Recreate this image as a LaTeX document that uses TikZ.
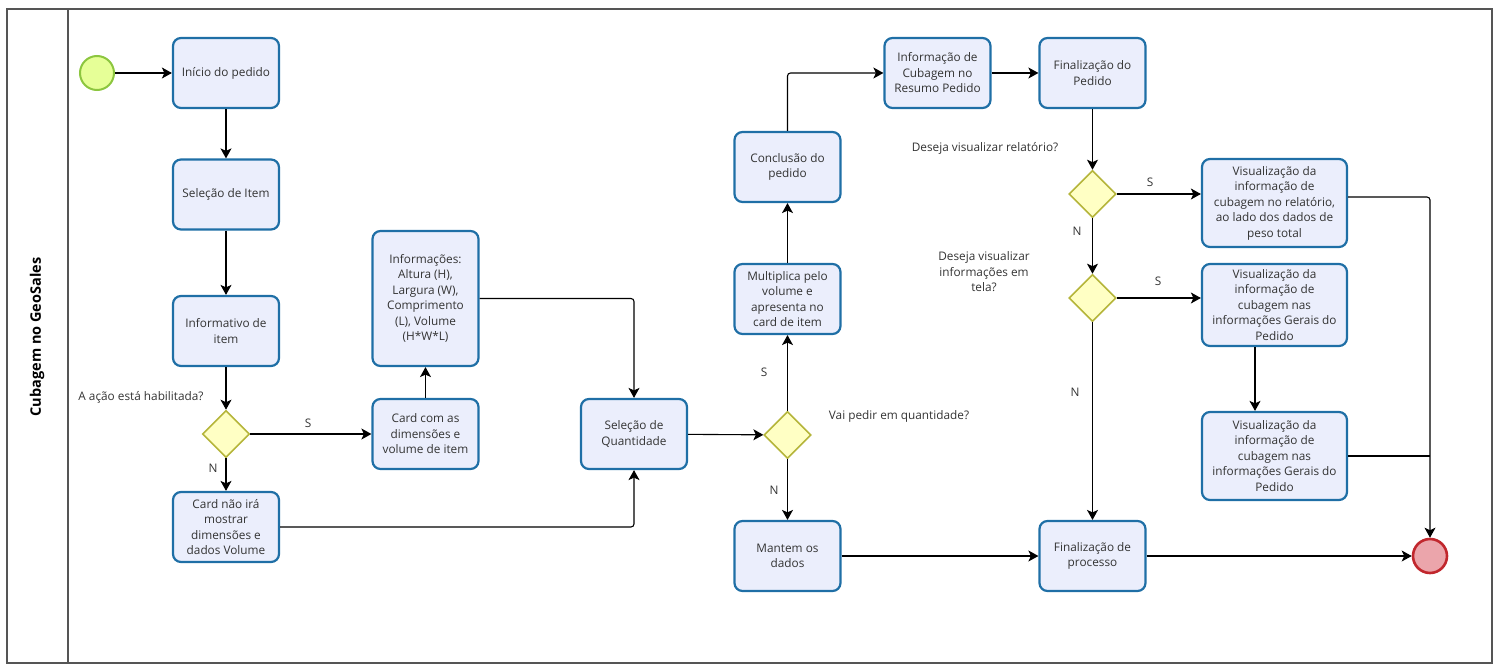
\documentclass[tikz,border=0pt]{standalone}
\usepackage{fontspec}
\setmainfont{Open Sans}
\usetikzlibrary{arrows.meta,shapes.geometric}
\definecolor{taskfill}{HTML}{EBEEFC}
\definecolor{taskline}{HTML}{1F6FA6}
\definecolor{gwfill}{HTML}{FFFFC4}
\definecolor{gwline}{HTML}{B5B53A}
\definecolor{txt}{HTML}{333333}
\definecolor{startfill}{HTML}{E6FF97}
\definecolor{startline}{HTML}{8CC63F}
\definecolor{endfill}{HTML}{EBA5AB}
\definecolor{endline}{HTML}{C1272D}
\definecolor{frame}{HTML}{555555}
\tikzset{
  txtfont/.style={font=\fontsize{11.8}{15.5}\selectfont, text=txt},
  task/.style={draw=taskline, line width=2.2pt, fill=taskfill, rounded corners=8pt,
    minimum width=106pt, minimum height=70pt, align=center, inner sep=1pt, txtfont},
  gw/.style={diamond, draw=gwline, line width=1.6pt, fill=gwfill, minimum width=47pt, minimum height=47pt, inner sep=0pt},
  startev/.style={circle, draw=startline, line width=2pt, fill=startfill, minimum size=34pt, inner sep=0pt},
  endev/.style={circle, draw=endline, line width=2.6pt, fill=endfill, minimum size=34pt, inner sep=0pt},
  flow/.style={draw=black, line width=1.1pt, rounded corners=3pt, -{Stealth[length=10pt,width=11pt,inset=2.5pt]}},
  plain/.style={draw=black, line width=1.1pt, rounded corners=3pt},
  lbl/.style={txtfont, inner sep=0pt, align=center}
}
\begin{document}
\begin{tikzpicture}[x=1pt,y=-1pt]
\useasboundingbox (0,0) rectangle (1500,671);
\draw[frame, line width=1.3pt] (7,9) rectangle (1492,663);
\draw[frame, line width=1.3pt] (68,9) -- (68,663);
\node[rotate=90, font=\fontsize{14.5}{16}\selectfont\bfseries] (lane) at (37,337) {Cubagem no GeoSales};

\node[startev] (start) at (97,73) {};
\node[task] (t1) at (226,73) {Início do pedido};
\node[task] (t2) at (226,194.5) {Seleção de Item};
\node[task] (t3) at (226,331) {Informativo de\\item};
\node[gw] (g1) at (226,434) {};
\node[task] (cardnao) at (226,527) {Card não irá\\mostrar\\dimensões e\\dados Volume};
\node[task] (cardcom) at (425.5,434) {Card com as\\dimensões e\\volume de item};
\node[task, minimum height=135pt] (info) at (425.5,298.5) {Informações:\\Altura (H),\\Largura (W),\\Comprimento\\(L), Volume\\(H*W*L)};
\node[task] (selq) at (634,434) {Seleção de\\Quantidade};
\node[gw] (g2) at (787.5,435) {};
\node[task] (mant) at (787.5,556) {Mantem os\\dados};
\node[task] (mult) at (787.5,299) {Multiplica pelo\\volume e\\apresenta no\\card de item};
\node[task] (concl) at (787.5,167) {Conclusão do\\pedido};
\node[task] (infores) at (937.5,73) {Informação de\\Cubagem no\\Resumo Pedido};
\node[task] (finped) at (1092.5,73) {Finalização do\\Pedido};
\node[gw] (g3) at (1092.5,194) {};
\node[gw] (g4) at (1092.5,298) {};
\node[task, minimum width=145pt, minimum height=88pt] (vis1) at (1274.5,203) {Visualização da\\informação de\\cubagem no relatório,\\ao lado dos dados de\\peso total};
\node[task, minimum width=145pt, minimum height=82pt] (vis2) at (1274.5,305) {Visualização da\\informação de\\cubagem nas\\informações Gerais do\\Pedido};
\node[task, minimum width=145pt, minimum height=88pt] (vis3) at (1274.5,456) {Visualização da\\informação de\\cubagem nas\\informações Gerais do\\Pedido};
\node[task] (finproc) at (1092.5,556) {Finalização de\\processo};
\node[endev] (end) at (1430,556) {};

\node[lbl] (q1) at (141,397) {A ação está habilitada?};
\node[lbl] (q2) at (899,416) {Vai pedir em quantidade?};
\node[lbl] (q3) at (985,148) {Deseja visualizar relatório?};
\node[lbl] (q4) at (984,272) {Deseja visualizar\\informações em\\tela?};

\draw[flow] (start) -- (t1);
\draw[flow] (t1) -- (t2);
\draw[flow] (t2) -- (t3);
\draw[flow] (t3) -- (g1);
\draw[flow] (g1) -- (cardcom);
\node[lbl] (s1) at (308,423) {S};
\draw[flow] (g1) -- (cardnao);
\node[lbl] (n1) at (213,468) {N};
\draw[flow] (cardcom) -- (info);
\draw[flow] (info.east) -| (selq.north);
\draw[flow] (cardnao.east) -| (selq.south);
\draw[flow] (selq) -- (g2);
\draw[flow] (g2) -- (mult);
\node[lbl] (s2) at (764,372) {S};
\draw[flow] (g2) -- (mant);
\node[lbl] (n2) at (774,490) {N};
\draw[flow] (mult) -- (concl);
\draw[flow] (concl.north) |- (infores.west);
\draw[flow] (infores) -- (finped);
\draw[flow] (finped) -- (g3);
\draw[flow] (g3) -- (g3 -| vis1.west);
\node[lbl] (s3) at (1150,182) {S};
\draw[flow] (g3) -- (g4);
\node[lbl] (n3) at (1077,231) {N};
\draw[flow] (g4) -- (g4 -| vis2.west);
\node[lbl] (s4) at (1158,281) {S};
\draw[flow] (g4) -- (finproc);
\node[lbl] (n4) at (1075,392) {N};
\draw[flow] ([xshift=-19.5pt]vis2.south) -- ([xshift=-19.5pt]vis3.north);
\draw[flow] ([yshift=6pt]vis1.east) -| (end.north);
\coordinate (join) at (end.center |- vis3.east);
\draw[plain] (vis3.east) -- (join);
\draw[flow] (mant) -- (finproc);
\draw[flow] (finproc) -- (end);
\end{tikzpicture}
\end{document}
